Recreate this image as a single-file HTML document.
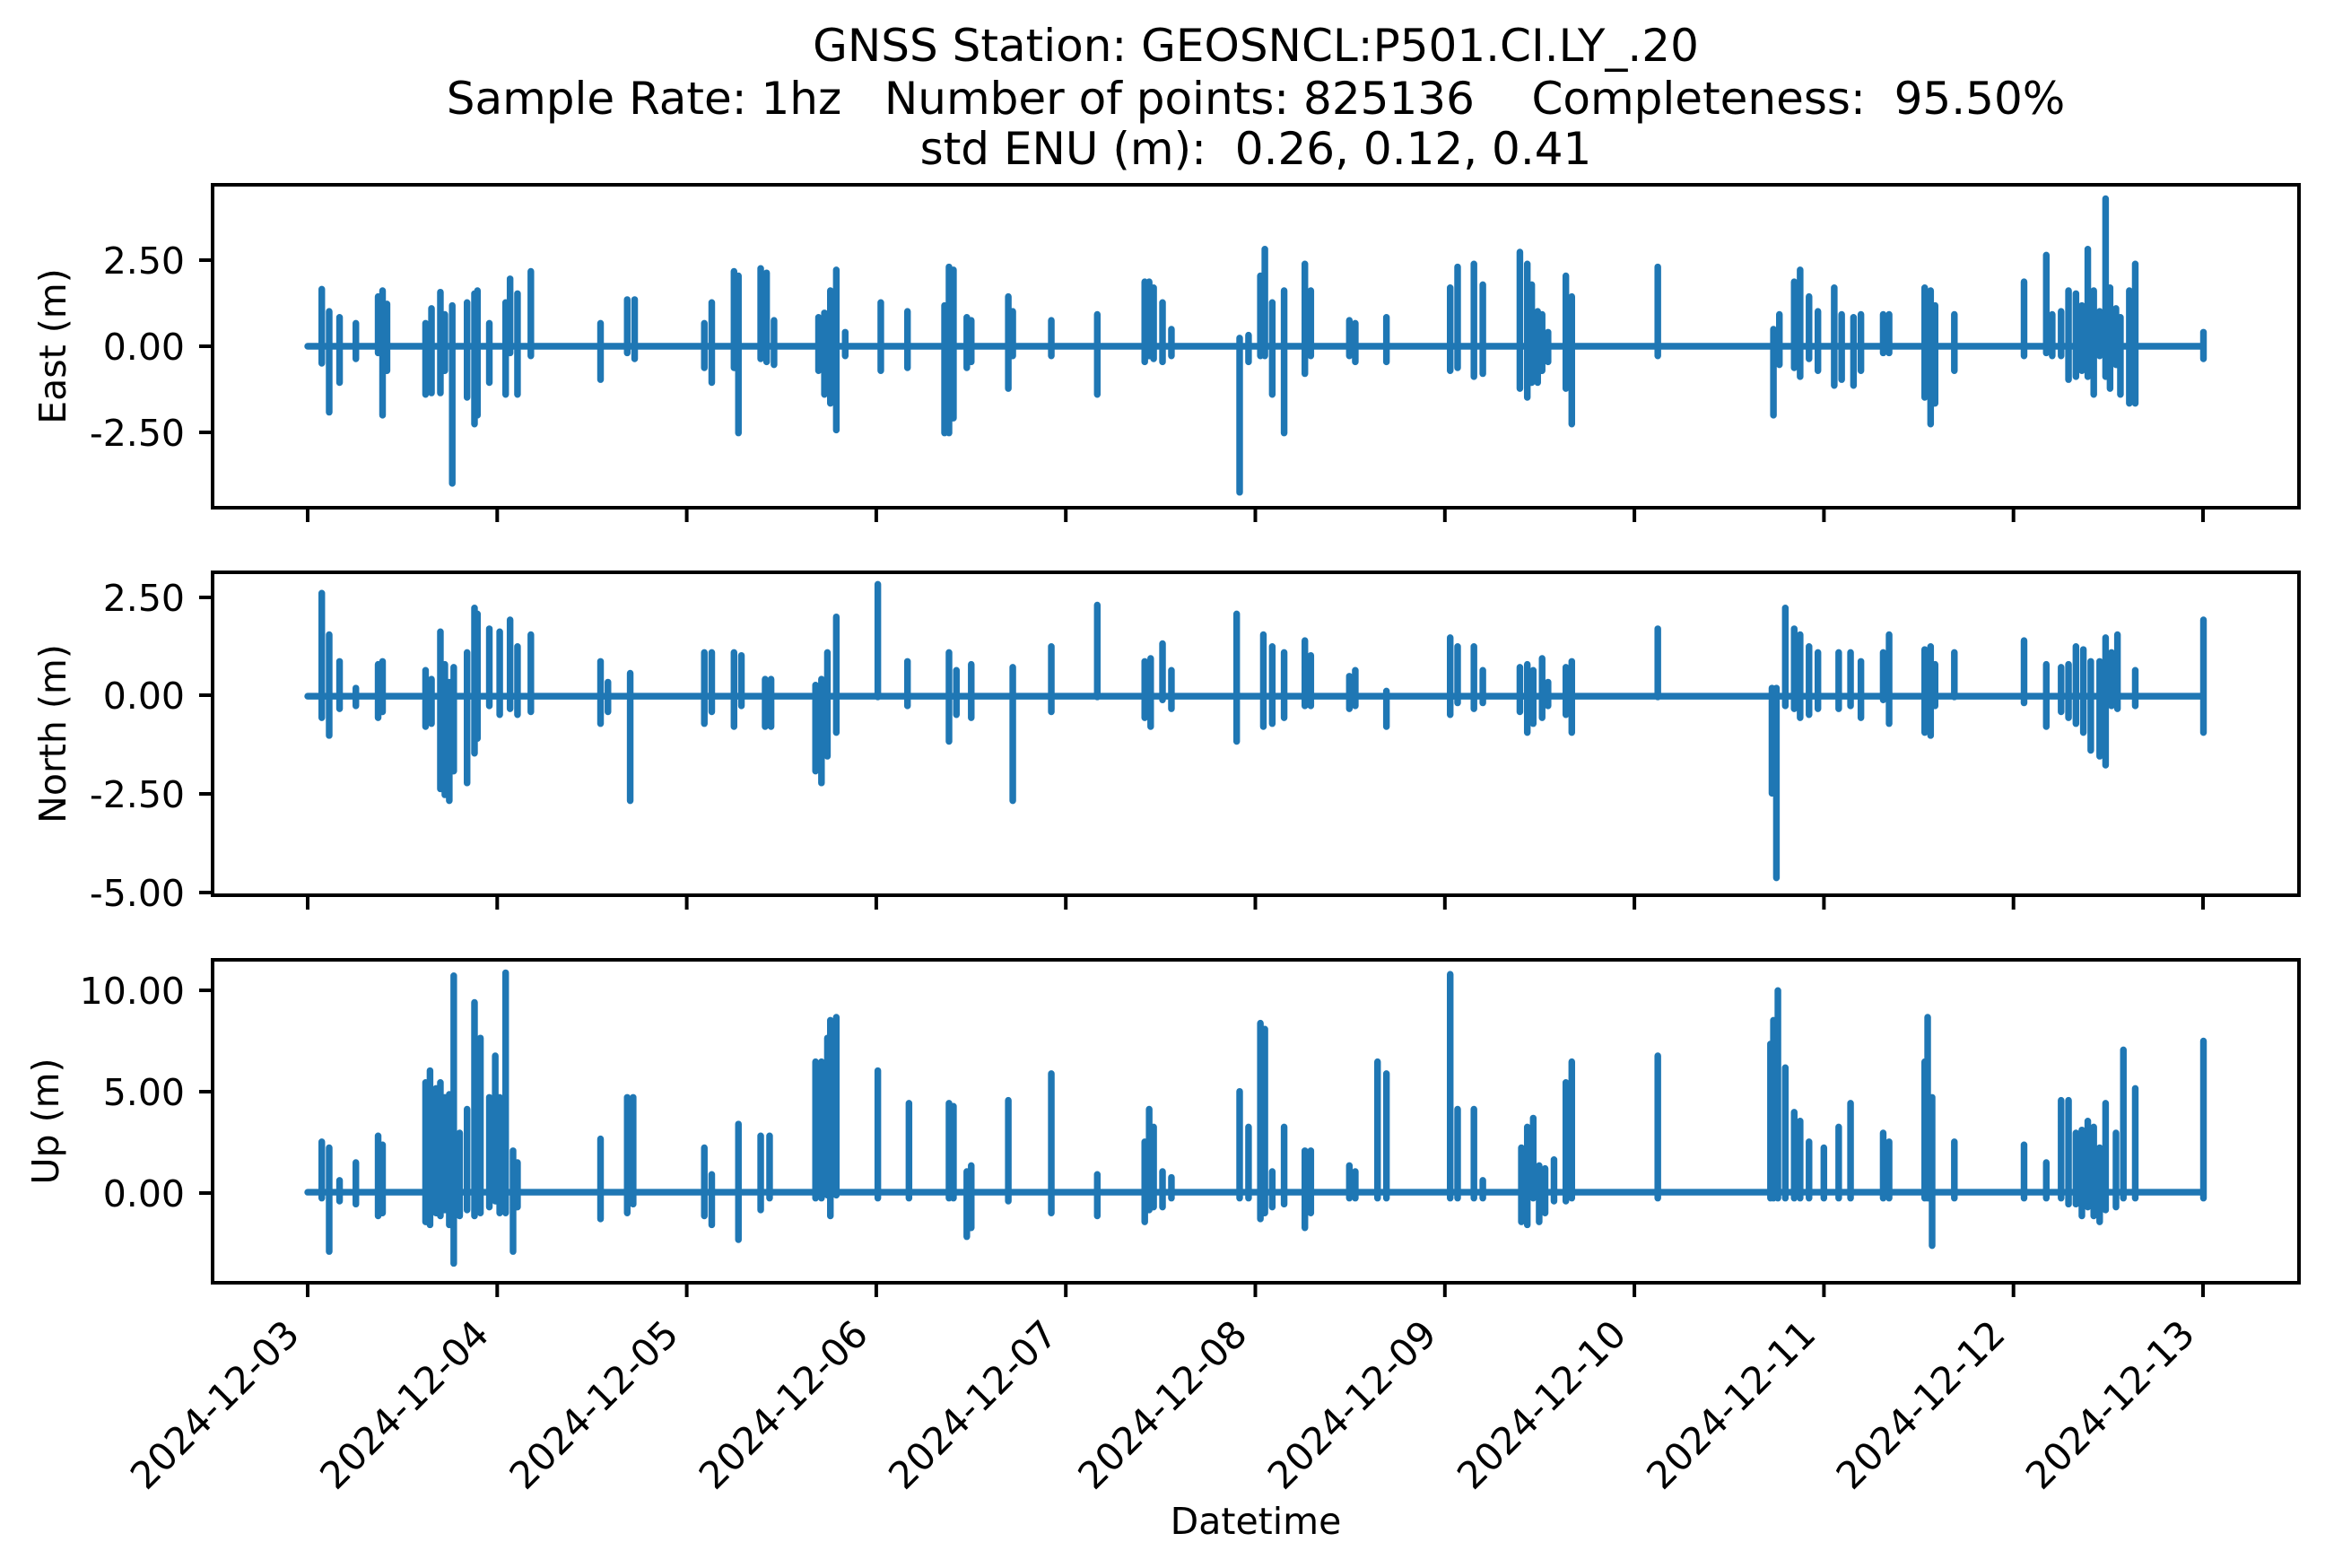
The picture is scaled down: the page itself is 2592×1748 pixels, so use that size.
<!DOCTYPE html>
<html><head><meta charset="utf-8"><style>
html,body{margin:0;padding:0;background:#fff;}
svg{display:block;font-family:"DejaVu Sans","Liberation Sans",sans-serif;}
text{white-space:pre;}
</style></head><body>
<svg width="2592" height="1748" viewBox="0 0 2592 1748" xmlns="http://www.w3.org/2000/svg" xml:space="preserve">
<rect width="2592" height="1748" fill="#fff"/>
<g font-size="50" text-anchor="middle" fill="#000">
<text x="1400" y="68">GNSS Station: GEOSNCL:P501.CI.LY_.20</text>
<text x="1400" y="127">Sample Rate: 1hz   Number of points: 825136    Completeness:  95.50%</text>
<text x="1400" y="183">std ENU (m):  0.26, 0.12, 0.41</text>
</g>
<g transform="scale(1.6531)" stroke="#1f77b4" stroke-width="4.5" stroke-linecap="round" stroke-linejoin="round" fill="none">
<path d="M207.5 233.5H1486M217 195V245M222 210V278M229 214V258M240 218V242M255 200V238M258 196V280M261 205V250M287 218V266M291 208V265M297 197V265M300 212V250M305 206V326M315 204V268M320 198V286M322 196V280M330 218V258M341 204V266M344 188V238M349 198V266M358 183V240M405 218V256M423 202V238M428 202V242M475 218V248M480 204V258M495 183V248M498 186V292M513 181V242M517 184V244M522 216V246M552 214V250M556 211V266M560 196V272M564 182V290M570 224V240M594 204V250M612 210V248M637 206V292M640 180V292M643 182V282M652 214V248M655 216V244M680 200V262M683 210V240M709 216V240M740 212V266M772 190V244M775 190V240M778 194V242M784 204V244M790 222V240M836 228V332M842 226V244M850 186V240M853 168V240M858 204V266M866 196V292M880 178V252M884 196V240M910 216V240M914 218V244M935 214V244M978 194V250M983 180V248M994 178V254M1000 192V252M1025 170V262M1030 178V268M1033 192V258M1037 210V258M1040 212V250M1044 224V244M1056 186V262M1060 200V286M1118 180V240M1196 222V280M1200 212V246M1210 190V248M1214 182V254M1220 200V242M1226 210V250M1237 194V260M1242 212V256M1250 214V260M1255 212V250M1270 212V238M1274 212V238M1298 194V268M1302 196V286M1305 206V272M1318 212V250M1365 190V240M1380 172V238M1384 212V240M1390 210V240M1395 196V256M1400 198V254M1404 206V250M1408 168V254M1412 196V266M1416 210V240M1420 134V254M1423 194V262M1427 208V246M1430 214V266M1436 196V272M1440 178V272M1486 224V242"/>
<path d="M207.5 469.5H1486M217 400V484M222 428V496M229 446V478M240 464V476M255 448V484M258 446V480M287 452V490M291 458V488M297 426V532M300 448V536M303 460V540M306 450V520M315 440V528M320 410V508M322 414V498M330 424V476M337 426V482M344 418V478M349 436V482M358 428V480M405 446V488M410 460V480M425 454V540M475 440V488M480 440V480M495 440V490M500 442V476M516 458V490M520 458V490M550 462V520M554 458V528M558 440V510M564 416V494M592 394V470M612 446V476M640 440V500M645 452V482M655 448V484M683 450V540M709 436V480M740 408V470M772 446V484M776 444V490M784 434V472M790 452V478M834 414V500M852 428V490M858 436V488M866 440V484M880 432V476M884 442V476M910 456V478M914 452V476M935 466V490M978 430V482M983 436V474M994 436V478M1000 452V474M1025 450V480M1030 448V494M1034 452V488M1040 444V484M1044 460V476M1056 450V482M1060 446V494M1118 424V470M1195 464V535M1198 464V592M1204 410V476M1210 424V478M1214 428V484M1220 436V482M1226 440V478M1240 440V478M1248 440V476M1255 446V484M1270 440V472M1274 428V488M1298 438V494M1302 436V496M1305 448V476M1318 440V470M1365 432V474M1380 448V490M1390 450V480M1395 448V484M1400 436V488M1405 438V494M1410 446V506M1416 446V510M1420 430V516M1424 440V476M1428 428V478M1440 452V476M1486 418V494"/>
<path d="M207.5 804H1486M217 770V808M222 774V844M229 796V810M240 784V812M255 766V820M258 772V818M287 730V824M290 722V826M294 734V818M297 730V820M300 740V816M303 738V826M306 658V852M310 764V820M315 748V816M320 676V820M324 700V818M330 740V814M334 712V810M337 740V818M341 656V818M346 776V844M349 784V814M405 768V822M423 740V818M427 740V812M475 774V820M480 792V826M498 758V836M513 766V816M519 766V808M550 716V808M554 716V808M558 700V806M560 688V820M564 686V806M592 722V808M613 744V808M640 744V808M643 746V808M652 790V834M655 786V828M680 742V810M709 724V818M740 792V820M772 770V824M775 748V816M778 760V814M784 790V814M790 794V808M836 736V808M842 760V808M850 690V822M853 694V818M858 790V814M866 760V812M880 776V828M884 776V818M910 786V808M914 790V808M929 716V808M935 724V808M978 657V808M983 748V808M994 748V808M1000 796V808M1026 774V824M1030 760V826M1034 754V808M1038 786V824M1042 788V818M1048 782V810M1056 730V810M1060 716V808M1118 712V808M1194 704V808M1196 688V808M1199 668V808M1204 720V808M1210 750V808M1214 756V808M1220 770V808M1230 774V808M1240 760V808M1248 744V808M1270 764V808M1274 770V808M1298 716V808M1300 686V808M1303 740V840M1318 770V808M1365 772V808M1380 784V808M1390 742V808M1395 742V812M1400 764V812M1404 762V820M1408 756V814M1412 760V820M1416 774V824M1420 744V816M1427 764V814M1432 708V808M1440 734V808M1486 702V808"/>
</g>
<g fill="none" stroke="#000" stroke-width="4">
<rect x="237" y="206" width="2326" height="360"/>
<rect x="237" y="638" width="2326" height="360"/>
<rect x="237" y="1070" width="2326" height="360"/>
</g>
<g stroke="#000" stroke-width="4">
<path d="M222 290H237M222 386H237M222 482H237M222 666H237M222 775H237M222 885H237M222 995H237M222 1104H237M222 1217H237M222 1330H237"/>
<path d="M343 566V582M554.3 566V582M765.6 566V582M976.9 566V582M1188.2 566V582M1399.5 566V582M1610.8 566V582M1822.1 566V582M2033.4 566V582M2244.7 566V582M2456 566V582"/>
<path d="M343 998V1014M554.3 998V1014M765.6 998V1014M976.9 998V1014M1188.2 998V1014M1399.5 998V1014M1610.8 998V1014M1822.1 998V1014M2033.4 998V1014M2244.7 998V1014M2456 998V1014"/>
<path d="M343 1430V1446M554.3 1430V1446M765.6 1430V1446M976.9 1430V1446M1188.2 1430V1446M1399.5 1430V1446M1610.8 1430V1446M1822.1 1430V1446M2033.4 1430V1446M2244.7 1430V1446M2456 1430V1446"/>
</g>
<g font-size="41" text-anchor="end" fill="#000">
<text x="206" y="305">2.50</text>
<text x="206" y="401">0.00</text>
<text x="206" y="497">-2.50</text>
<text x="206" y="681">2.50</text>
<text x="206" y="790">0.00</text>
<text x="206" y="900">-2.50</text>
<text x="206" y="1010">-5.00</text>
<text x="206" y="1119">10.00</text>
<text x="206" y="1232">5.00</text>
<text x="206" y="1345">0.00</text>
</g>
<g font-size="41" text-anchor="middle" fill="#000">
<text transform="translate(73 386) rotate(-90)">East (m)</text>
<text transform="translate(73 818) rotate(-90)">North (m)</text>
<text transform="translate(65 1250) rotate(-90)">Up (m)</text>
<text x="1400" y="1710">Datetime</text>
</g>
<g font-size="42" text-anchor="end" fill="#000">
<text transform="translate(336 1490) rotate(-45)">2024-12-03</text>
<text transform="translate(547.3 1490) rotate(-45)">2024-12-04</text>
<text transform="translate(758.6 1490) rotate(-45)">2024-12-05</text>
<text transform="translate(969.9 1490) rotate(-45)">2024-12-06</text>
<text transform="translate(1181.2 1490) rotate(-45)">2024-12-07</text>
<text transform="translate(1392.5 1490) rotate(-45)">2024-12-08</text>
<text transform="translate(1603.8 1490) rotate(-45)">2024-12-09</text>
<text transform="translate(1815.1 1490) rotate(-45)">2024-12-10</text>
<text transform="translate(2026.4 1490) rotate(-45)">2024-12-11</text>
<text transform="translate(2237.7 1490) rotate(-45)">2024-12-12</text>
<text transform="translate(2449 1490) rotate(-45)">2024-12-13</text>
</g>
</svg>
</body></html>
